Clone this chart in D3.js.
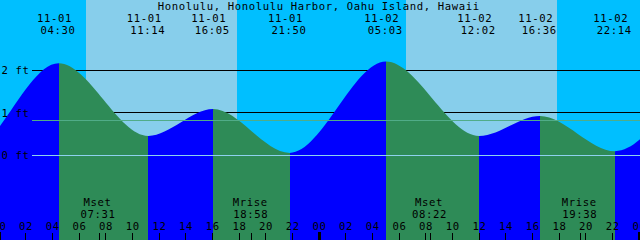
<!DOCTYPE html>
<html><head><meta charset="utf-8">
<script src="https://cdn.jsdelivr.net/npm/d3@7"></script>
<style>
html,body{margin:0;padding:0;background:#00BFFF;overflow:hidden;}
svg{display:block;}
text{font-family:"DejaVu Sans Mono",monospace;font-size:10.6px;letter-spacing:0.62px;fill:#000;}
</style></head><body><svg id="c" width="640" height="240"></svg>
<script>
// ---- data ----
const title = "Honolulu, Honolulu Harbor, Oahu Island, Hawaii";
const tideTimes = ["2024-10-31 16:10","2024-10-31 21:36","2024-11-01 04:30","2024-11-01 11:14","2024-11-01 16:05","2024-11-01 21:50","2024-11-02 05:03","2024-11-02 12:02","2024-11-02 16:36","2024-11-02 22:14","2024-11-03 06:30","2024-11-03 13:00"];
const tideHeights = [0.95,0.05,2.16,0.45,1.08,0.05,2.20,0.45,0.92,0.09,2.22,0.45];
const sunriseTimes = ["2024-11-01 06:33","2024-11-02 06:33"];
const sunsetTimes = ["2024-11-01 17:53","2024-11-02 17:53"];
const moonTimes = ["2024-11-01 07:31","2024-11-01 18:58","2024-11-02 08:22","2024-11-02 19:38"];
const moonEvents = ["Mset","Mrise","Mset","Mrise"];
const footLevels = [0,1,2];
const footLabels = ["0 ft","1 ft","2 ft"];
const mslLevel = 0.82;
const viewStart = "2024-11-01 00:06:18";
const viewEnd = "2024-11-03 00:06:18";

// ---- setup ----
const parse = s => new Date(s.replace(" ","T") + (s.length > 16 ? "Z" : ":00Z"));
const W = 640, H = 240;
const svg = d3.select("#c");
const x = d3.scaleUtc().domain([parse(viewStart), parse(viewEnd)]).range([0, W]);
const y = d3.scaleLinear().domain([0, 2]).range([155, 70]);
const fmtDate = d3.utcFormat("%m-%d"), fmtTime = d3.utcFormat("%H:%M");

// background
svg.append("rect").attr("width", W).attr("height", H).attr("fill", "#00BFFF");
svg.append("g").selectAll("rect").data(sunriseTimes).join("rect")
  .attr("x", (d) => Math.round(x(parse(d))))
  .attr("width", (d, i) => Math.round(x(parse(sunsetTimes[i]))) - Math.round(x(parse(d))))
  .attr("y", 0).attr("height", H).attr("fill", "#87CEEB").attr("shape-rendering", "crispEdges");

// foot lines (behind tide)
svg.append("g").selectAll("line").data(footLevels.filter(d => d !== 0)).join("line")
  .attr("x1", 32).attr("x2", W)
  .attr("y1", d => Math.floor(y(d)) + 0.5).attr("y2", d => Math.floor(y(d)) + 0.5)
  .attr("stroke", "#000").attr("stroke-width", 1).attr("shape-rendering", "crispEdges");

// tide
const tide = tideTimes.map((t, i) => ({t: parse(t), h: tideHeights[i]}));
const area = d3.area().x(d => x(d.t)).y0(H).y1(d => y(d.h)).curve(d3.curveMonotoneX);
svg.append("clipPath").attr("id", "tc").append("path").attr("d", area(tide));
const segs = d3.pairs(tide);
svg.append("g").attr("clip-path", "url(#tc)").selectAll("rect").data(segs).join("rect")
  .attr("x", d => x(d[0].t)).attr("width", d => x(d[1].t) - x(d[0].t))
  .attr("y", 0).attr("height", H)
  .attr("fill", d => d[1].h > d[0].h ? "#0000FF" : "#2E8B57")
  .attr("shape-rendering", "crispEdges");

// msl and datum lines (over tide)
svg.append("line").attr("x1", 32).attr("x2", W)
  .attr("y1", Math.floor(y(mslLevel)) + 0.5).attr("y2", Math.floor(y(mslLevel)) + 0.5)
  .attr("stroke", "#50AC88").attr("shape-rendering", "crispEdges");
svg.append("line").attr("x1", 32).attr("x2", W)
  .attr("y1", Math.floor(y(0)) + 0.5).attr("y2", Math.floor(y(0)) + 0.5)
  .attr("stroke", "#8ED1EE").attr("shape-rendering", "crispEdges");

// foot labels
svg.append("g").selectAll("text").data(footLevels).join("text")
  .attr("x", 1.5).attr("y", d => y(d) + 4.3).text((d, i) => footLabels[i]);

// title
svg.append("text").attr("x", 318.8).attr("y", 9.6).attr("text-anchor", "middle").text(title);

// tide event labels
const vis = tide.filter(d => x(d.t) >= 0 && x(d.t) <= W);
const tl = svg.append("g").attr("text-anchor", "middle");
tl.selectAll("text.d").data(vis).join("text").attr("class", "d")
  .attr("x", d => x(d.t) - 4.2).attr("y", 21.8).text(d => fmtDate(d.t));
tl.selectAll("text.t").data(vis).join("text").attr("class", "t")
  .attr("x", d => x(d.t) - 0.7).attr("y", 33.9).text(d => fmtTime(d.t));

// moon labels
const moon = moonTimes.map((t, i) => ({t: parse(t), e: moonEvents[i]}));
const ml = svg.append("g").attr("text-anchor", "middle");
ml.selectAll("text.e").data(moon).join("text").attr("class", "e")
  .attr("x", d => x(d.t) - 1.2).attr("y", 205.8).text(d => d.e);
ml.selectAll("text.t").data(moon).join("text").attr("class", "t")
  .attr("x", d => x(d.t) - 0.7).attr("y", 217.6).text(d => fmtTime(d.t));

// hour axis
const hourTicks = d3.utcHour.every(2).range(parse("2024-11-01 00:00"), parse("2024-11-03 00:01"));
const ax = svg.append("g").attr("transform", `translate(0,${H})`)
  .call(d3.axisTop(x).tickValues(hourTicks).tickFormat(d3.utcFormat("%H")).tickSize(7).tickPadding(2.6));
ax.select(".domain").remove();
ax.selectAll("text").attr("font-family", null).attr("font-size", null).attr("fill", "#000")
  .attr("dx", "0.3");
ax.selectAll(".tick line").attr("stroke", "#000").attr("shape-rendering", "crispEdges")
  .attr("stroke-width", d => d.getUTCHours() === 0 ? 3 : 1)
  .attr("y2", d => d.getUTCHours() === 0 ? -8 : -7);
// moon ticks
const mx = svg.append("g").attr("transform", `translate(0,${H})`)
  .call(d3.axisTop(x).tickValues(moon.map(d => d.t)).tickFormat("").tickSize(7));
mx.select(".domain").remove();
mx.selectAll(".tick line").attr("stroke", "#000").attr("shape-rendering", "crispEdges");
</script></body></html>
